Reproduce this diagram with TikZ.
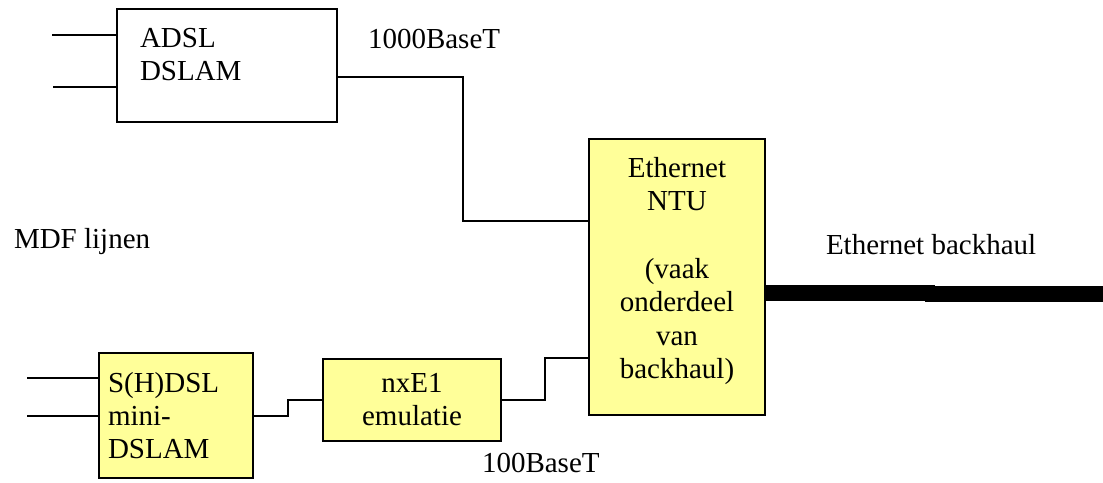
\documentclass[tikz,border=0pt]{standalone}
\usepackage{fontspec}
\setmainfont{Liberation Serif}
\definecolor{boxyellow}{HTML}{FFFF99}
\begin{document}
\begin{tikzpicture}[x=1pt,y=-1pt,
  every node/.style={font=\fontsize{29}{33.5}\selectfont, inner sep=0pt, outer sep=0pt},
  yellowbox/.style={draw=black, line width=1.8pt, fill=boxyellow, anchor=north west},
  wire/.style={draw=black, line width=1.8pt},
  inwire/.style={draw=black, line width=1.5pt},
  fat/.style={draw=black, line width=16pt},
  lbl/.style={anchor=base west},
  clbl/.style={anchor=base, align=center}]
\useasboundingbox (0,0) rectangle (1103,482);
% boxes
\node[draw=black, line width=1.8pt, fill=white, anchor=north west, minimum width=220pt, minimum height=113pt] (adsl) at (117,9) {};
\node[yellowbox, minimum width=176pt, minimum height=276pt] (ntu) at (589,139) {};
\node[yellowbox, minimum width=154pt, minimum height=125pt] (shdsl) at (99,353) {};
\node[yellowbox, minimum width=178pt, minimum height=82pt] (nxe) at (323,359) {};
% box texts
\node[lbl] (adslA) at (140,47) {ADSL};
\node[lbl] (adslB) at (140,80.5) {DSLAM};
\node[clbl] (ntuA) at (677,177) {Ethernet};
\node[clbl] (ntuB) at (677,210.5) {NTU};
\node[clbl] (ntuC) at (677,278) {(vaak};
\node[clbl] (ntuD) at (677,311.5) {onderdeel};
\node[clbl] (ntuE) at (677,345) {van};
\node[clbl] (ntuF) at (677,378) {backhaul)};
\node[lbl] (shA) at (108,392) {S(H)DSL};
\node[lbl] (shB) at (108,425) {mini-};
\node[lbl] (shC) at (108,458.5) {DSLAM};
\node[clbl] (nxA) at (412,392) {nxE1};
\node[clbl] (nxB) at (412,425) {emulatie};
% free labels
\node[lbl] (t1000) at (368,48) {1000BaseT};
\node[lbl] (tmdf) at (14,248) {MDF lijnen};
\node[lbl] (tbh) at (826,254) {Ethernet backhaul};
\node[lbl] (t100) at (482,472) {100BaseT};
% input wires
\coordinate (inA1) at (52,35);
\coordinate (inA2) at (53,87);
\coordinate (inS1) at (27,378);
\coordinate (inS2) at (27,416);
\draw[inwire] (inA1) -- (inA1 -| adsl.west);
\draw[inwire] (inA2) -- (inA2 -| adsl.west);
\draw[inwire] (inS1) -- (inS1 -| shdsl.west);
\draw[inwire] (inS2) -- (inS2 -| shdsl.west);
% connectors
\draw[wire] (adsl.east |- 0,77) -- (463,77) |- (ntu.west |- 0,221);
\draw[wire] (shdsl.east |- 0,416) -- (288,416) |- (nxe.west);
\draw[wire] (nxe.east) -- (545,400) |- (ntu.west |- 0,358);
% backhaul
\coordinate (bhA) at (935,292.5);
\coordinate (bhB) at (925,293.5);
\coordinate (bhEnd) at (1103,293.5);
\draw[fat] (ntu.east |- bhA) -- (bhA);
\draw[fat] (bhB) -- (bhEnd);
\end{tikzpicture}
\end{document}
